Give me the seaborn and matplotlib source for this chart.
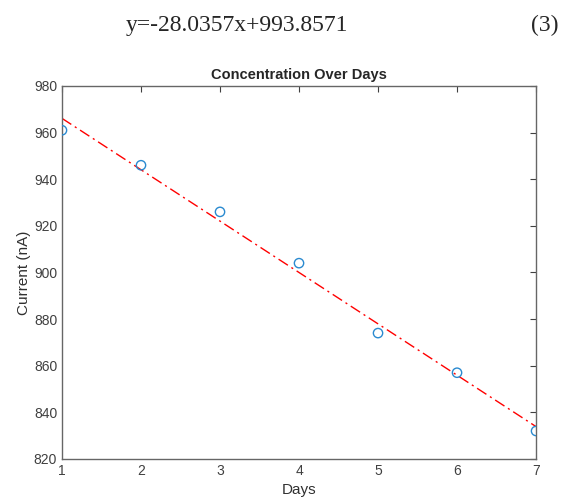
import numpy as np
import pandas as pd
import seaborn as sns
import matplotlib.pyplot as plt

days = [1, 2, 3, 4, 5, 6, 7]
current = [961, 946, 926, 904, 874, 857, 832]
equation = "y=-28.0357x+993.8571"
eq_number = "(3)"

df = pd.DataFrame({"Days": days, "Current": current})
slope, intercept = np.polyfit(df["Days"], df["Current"], 1)
df["Fit"] = slope * df["Days"] + intercept

sns.set_style("white")
plt.rcParams['font.family'] = ['Liberation Sans', 'DejaVu Sans']

fig = plt.figure(figsize=(5.61, 4.97), dpi=100)
ax = fig.add_axes([0.1105, 0.0765, 0.845, 0.7505])

sns.lineplot(data=df, x="Days", y="Fit", ax=ax, color="red", linestyle=(0, (8, 3, 1.5, 3)),
             linewidth=1)
sns.scatterplot(data=df, x="Days", y="Current", ax=ax, marker="o", s=45,
                facecolor="none", edgecolor="#2a8ad0", linewidth=1, zorder=3)

ax.set_xlim(1, 7)
ax.set_ylim(820, 980)
ax.set_xticks(range(1, 8))
ax.set_yticks(range(820, 981, 20))
ax.tick_params(direction="in", length=4, top=True, right=True, colors="#404040",
               labelsize=10, labelcolor="#404040")
for s in ax.spines.values():
    s.set_color("#666666")
    s.set_linewidth(1)
ax.set_xlabel("Days", fontsize=11, color="#303030", labelpad=4)
ax.set_ylabel("Current (nA)", fontsize=11, color="#303030", labelpad=2)
ax.set_title("Concentration Over Days", fontsize=10.5, fontweight="bold", pad=5)

fig.text(0.423, 0.948, equation, fontsize=17, family="Liberation Serif",
         ha="center", va="center")
fig.text(0.995, 0.948, eq_number, fontsize=17, family="Liberation Serif",
         ha="right", va="center")

fig.savefig("out.png", dpi=100)
